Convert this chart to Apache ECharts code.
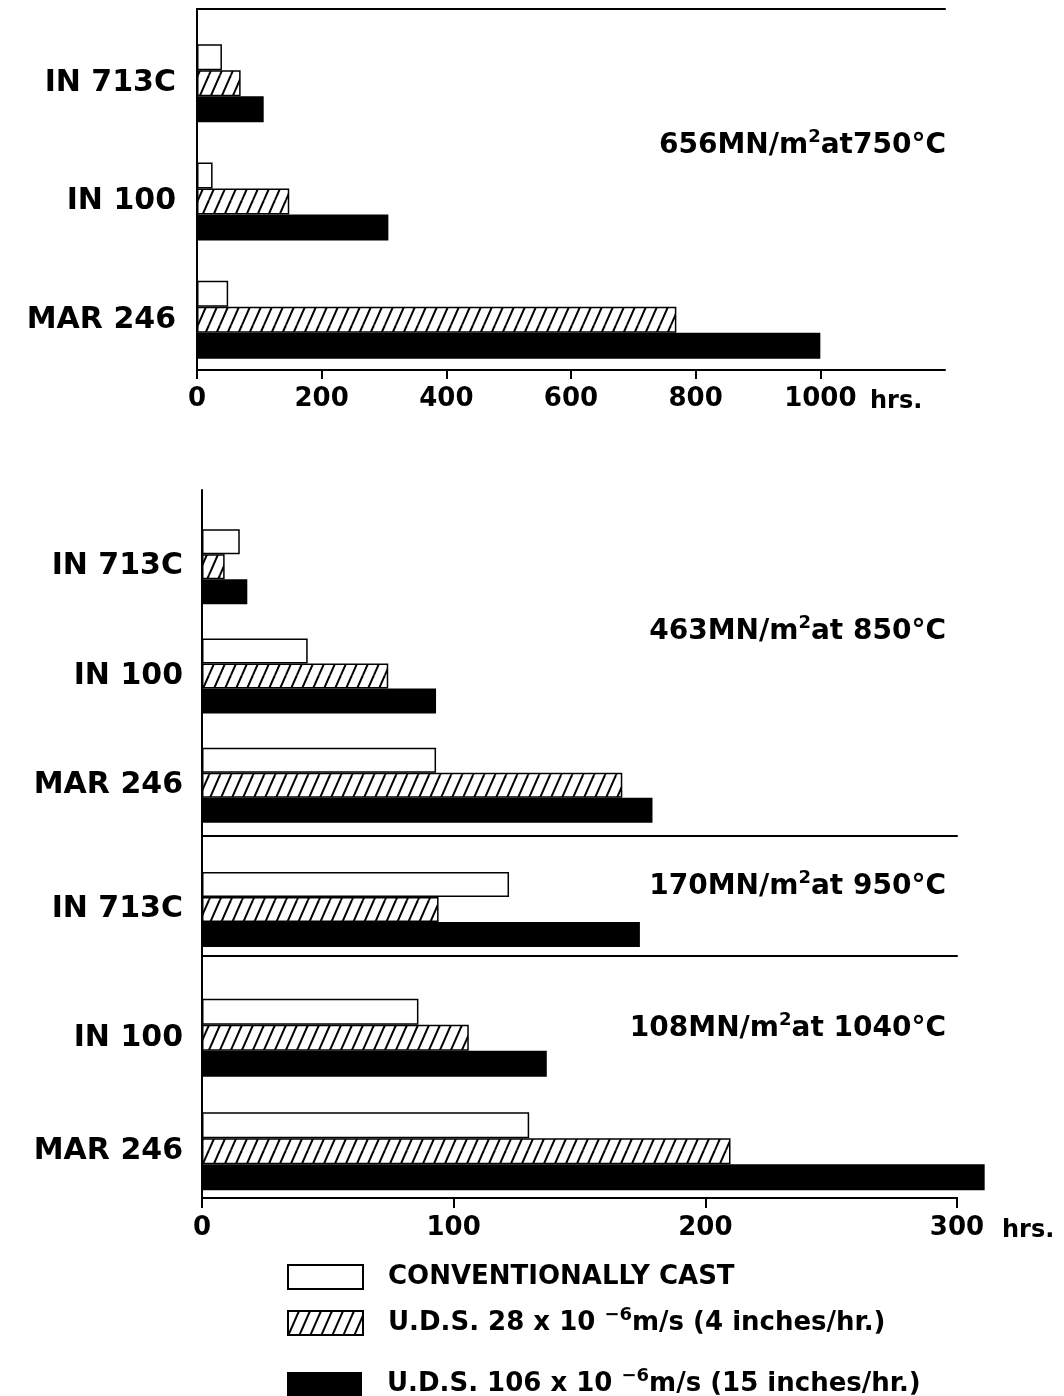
<!DOCTYPE html>
<html>
<head>
<meta charset="utf-8">
<script src="https://cdn.jsdelivr.net/npm/echarts@6/dist/echarts.min.js"></script>
<style>html,body{margin:0;padding:0;background:#fff}#c{width:1064px;height:1396px}</style>
</head>
<body>
<div id="c"></div>
<script>
// ---------------- DATA ----------------
const cats750 = ['IN 713C', 'IN 100', 'MAR 246'];
const conv750 = [40, 25, 50];
const uds4_750 = [70, 148, 769];
const uds15_750 = [107, 307, 1000];

const cats850 = ['IN 713C', 'IN 100', 'MAR 246'];
const conv850 = [15, 42, 93];
const uds4_850 = [9, 74, 167];
const uds15_850 = [18, 93, 179];

const cats950 = ['IN 713C'];
const conv950 = [122];
const uds4_950 = [94];
const uds15_950 = [174];

const cats1040 = ['IN 100', 'MAR 246'];
const conv1040 = [86, 130];
const uds4_1040 = [106, 210];
const uds15_1040 = [137, 311];

const topAxisMax = 1200, topAxisStep = 200;
const botAxisMax = 300, botAxisStep = 100;
const unitLabel = 'hrs.';

const seriesNames = ['conv', 'uds4', 'uds15'];
const legendLabels = {
  conv: 'CONVENTIONALLY CAST',
  uds4: 'U.D.S. 28 x 10 {sup|−6}m/s (4 inches/hr.)',
  uds15: 'U.D.S. 106 x 10 {sup|−6}m/s (15 inches/hr.)'
};
const conditions = [
  '{b|656MN/m}{sup|2}{b|at750°C}',
  '{b|463MN/m}{sup|2}{b|at 850°C}',
  '{b|170MN/m}{sup|2}{b|at 950°C}',
  '{b|108MN/m}{sup|2}{b|at 1040°C}'
];

// ---------------- STYLE ----------------
const F = 'DejaVu Sans';
const BLK = '#000';
function makeHatch() {
  const w = 11, h = 25;
  const c = document.createElement('canvas');
  c.width = w; c.height = h;
  const g = c.getContext('2d');
  g.fillStyle = '#fff'; g.fillRect(0, 0, w, h);
  g.strokeStyle = '#000'; g.lineWidth = 2;
  for (const dx of [-w, 0, w]) {
    g.beginPath(); g.moveTo(dx, h); g.lineTo(dx + w, 0); g.stroke();
  }
  return c;
}
const hatch = { image: makeHatch(), repeat: 'repeat' };
const styles = {
  conv: { color: '#fff', borderColor: BLK, borderWidth: 1.5 },
  uds4: { color: hatch, borderColor: BLK, borderWidth: 1.5 },
  uds15: { color: BLK, borderColor: BLK, borderWidth: 0 }
};

const axLine = { show: true, lineStyle: { color: BLK, width: 2 } };
const noTick = { show: false };
const noLabel = { show: false };
const noSplit = { show: false };
const labelFont = { fontFamily: F, fontWeight: 'bold', fontSize: 26, color: BLK };
const catFont = { fontFamily: F, fontWeight: 'bold', fontSize: 30, color: BLK };
const supRich = {
  b: { fontFamily: F, fontWeight: 'bold', fontSize: 28, color: BLK },
  sup: { fontFamily: F, fontWeight: 'bold', fontSize: 18, color: BLK, padding: [0, 0, 17, 0] }
};
const plainNum = v => String(v);

// ---------------- GRIDS ----------------
// 0 top frame, 1 top data, 2/3/4 bottom frames, 5/6/7 bottom data
const grid = [
  { left: 197, top: 9, width: 748, height: 361 },
  { left: 197, top: 24, width: 748, height: 355 },
  { left: 202, top: 490, width: 755, height: 346 },
  { left: 202, top: 836, width: 755, height: 120 },
  { left: 202, top: 956, width: 755, height: 242 },
  { left: 202, top: 512, width: 755, height: 328 },
  { left: 202, top: 860, width: 755, height: 99 },
  { left: 202, top: 981, width: 755, height: 227 }
];

function hiddenX(gi, max) {
  return { type: 'value', gridIndex: gi, min: 0, max: max, show: false };
}
function lineOnlyX(gi, pos, max) {
  return { type: 'value', gridIndex: gi, position: pos, min: 0, max: max,
    axisLine: axLine, axisTick: noTick, axisLabel: noLabel, splitLine: noSplit };
}
function frameY(gi) {
  return { type: 'value', gridIndex: gi, min: 0, max: 1, position: 'left',
    axisLine: axLine, axisTick: noTick, axisLabel: noLabel, splitLine: noSplit };
}
function catY(gi, cats, margin) {
  return { type: 'category', gridIndex: gi, data: cats, inverse: true,
    axisLine: { show: false }, axisTick: noTick, splitLine: noSplit,
    axisLabel: Object.assign({ margin: margin, align: 'right' }, catFont) };
}

const xAxis = [
  // 0: top frame bottom axis
  { type: 'value', gridIndex: 0, position: 'bottom', min: 0, max: topAxisMax, interval: topAxisStep,
    axisLine: axLine, axisTick: { show: true, length: 9, lineStyle: { color: BLK, width: 2 } },
    axisLabel: Object.assign({ margin: 16, showMaxLabel: false, formatter: plainNum }, labelFont),
    splitLine: noSplit,
    name: unitLabel, nameLocation: 'end', nameGap: -75,
    nameTextStyle: { fontFamily: F, fontWeight: 'bold', fontSize: 24, color: BLK, verticalAlign: 'top', padding: [20, 0, 0, 0] } },
  // 1: top frame top border
  lineOnlyX(0, 'top', topAxisMax),
  // 2: top data
  hiddenX(1, topAxisMax),
  // 3,4,5: bottom frames top borders
  lineOnlyX(2, 'top', botAxisMax),
  lineOnlyX(3, 'top', botAxisMax),
  lineOnlyX(4, 'top', botAxisMax),
  // 6: bottom axis
  { type: 'value', gridIndex: 4, position: 'bottom', min: 0, max: botAxisMax, interval: botAxisStep,
    axisLine: axLine, axisTick: { show: true, length: 10, lineStyle: { color: BLK, width: 2 } },
    axisLabel: Object.assign({ margin: 17, formatter: plainNum }, labelFont),
    splitLine: noSplit,
    name: unitLabel, nameLocation: 'end', nameGap: 45,
    nameTextStyle: { fontFamily: F, fontWeight: 'bold', fontSize: 24, color: BLK, verticalAlign: 'top', padding: [21, 0, 0, 0] } },
  // 7,8,9: bottom data
  hiddenX(5, botAxisMax),
  hiddenX(6, botAxisMax),
  hiddenX(7, botAxisMax)
];

const yAxis = [
  frameY(0),
  catY(1, cats750, 21),
  frameY(2),
  frameY(3),
  frameY(4),
  catY(5, cats850, 19),
  catY(6, cats950, 19),
  catY(7, cats1040, 19)
];

function groupSeries(xi, yi, arrs, bw) {
  return seriesNames.map((n, k) => ({
    name: n, type: 'bar', xAxisIndex: xi, yAxisIndex: yi,
    data: arrs[k], barWidth: bw, barGap: '0%', clip: false,
    itemStyle: styles[n], emphasis: { disabled: true }, silent: true
  }));
}

const series = [].concat(
  groupSeries(2, 1, [conv750, uds4_750, uds15_750], 26),
  groupSeries(7, 5, [conv850, uds4_850, uds15_850], 25),
  groupSeries(8, 6, [conv950, uds4_950, uds15_950], 25),
  groupSeries(9, 7, [conv1040, uds4_1040, uds15_1040], 26)
);

const titleTops = [128, 614, 869, 1011];
const title = conditions.map((t, i) => ({
  text: t, right: 118, top: titleTops[i], padding: 0,
  textStyle: { rich: supRich }
}));

const legendTops = [1264, 1306, 1367];
const legendRich = {
  sup: { fontFamily: F, fontWeight: 'bold', fontSize: 18, color: BLK, padding: [0, 0, 16, 0] }
};
const legend = seriesNames.map((n, i) => ({
  data: [n], left: 287, top: legendTops[i], orient: 'vertical', padding: 0,
  icon: 'rect', itemWidth: 75, itemHeight: 24, selectedMode: false,
  formatter: name => legendLabels[name],
  textStyle: { fontFamily: F, fontWeight: 'bold', fontSize: 26, color: BLK, padding: [0, 0, 0, 20], rich: legendRich }
}));

const chart = echarts.init(document.getElementById('c'), null, { renderer: 'canvas' });
chart.setOption({
  animation: false,
  backgroundColor: '#fff',
  title: title,
  legend: legend,
  grid: grid,
  xAxis: xAxis,
  yAxis: yAxis,
  series: series
});
</script>
</body>
</html>
